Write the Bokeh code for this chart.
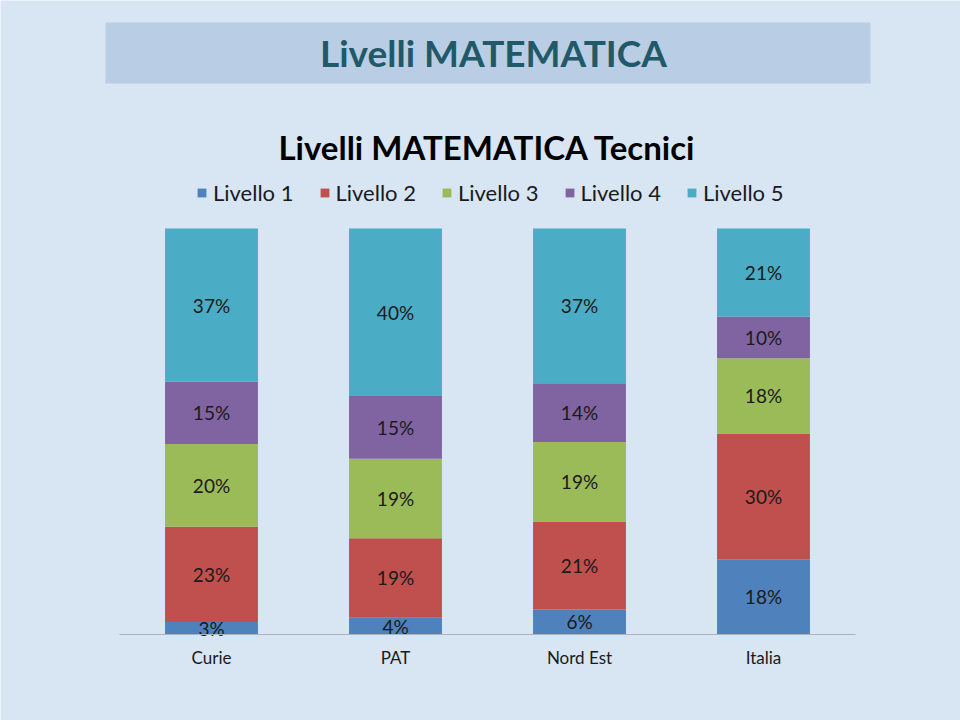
from bokeh.plotting import figure
from bokeh.models import ColumnDataSource, Range1d, Label, Legend, LegendItem, FixedTicker
from bokeh.embed import file_html
from bokeh.resources import INLINE
from bokeh.core.properties import value

# ---- data ----
categories = ["Curie", "PAT", "Nord Est", "Italia"]
levels = ["Livello 1", "Livello 2", "Livello 3", "Livello 4", "Livello 5"]
livello1 = [3, 4, 6, 18]
livello2 = [23, 19, 21, 30]
livello3 = [20, 19, 19, 18]
livello4 = [15, 15, 14, 10]
livello5 = [37, 40, 37, 21]
colors = ["#4f81bd", "#c0504d", "#9bbb59", "#8064a2", "#4bacc6"]

BG = "#d8e5f3"
FONT = "Lato"
W, H = 960, 720
# plot-area geometry (pixels): bars span x 119..855, y 228..634
PX_LEFT, PX_UNIT_X = 119, 184
PX_BASE, PX_UNIT_Y = 634, 406


def X(px):
    return (px - PX_LEFT) / PX_UNIT_X


def Y(py):
    return (PX_BASE - py) / PX_UNIT_Y


series = [livello1, livello2, livello3, livello4, livello5]
keys = ["l1", "l2", "l3", "l4", "l5"]
totals = [sum(s[i] for s in series) for i in range(len(categories))]
xpos = [i + 0.5 for i in range(len(categories))]

data = {"x": xpos}
for k, s in zip(keys, series):
    data[k] = [v / t for v, t in zip(s, totals)]
source = ColumnDataSource(data)

lx, ly, lt = [], [], []
for i in range(len(categories)):
    base = 0.0
    for k, s in zip(keys, series):
        frac = data[k][i]
        lx.append(xpos[i])
        ly.append(base + frac / 2)
        lt.append(f"{s[i]}%")
        base += frac
lsource = ColumnDataSource(dict(x=lx, y=ly, text=lt))

p = figure(width=W, height=H,
           x_range=Range1d(X(0), X(W)), y_range=Range1d(Y(H), Y(0)),
           output_backend="svg", toolbar_location=None,
           min_border_left=0, min_border_right=0, min_border_top=0, min_border_bottom=0,
           background_fill_color=BG, border_fill_color=BG, outline_line_color=None)

# banner
p.quad(left=[X(105)], right=[X(870)], top=[Y(22)], bottom=[Y(83)],
       fill_color="#b9cde4", line_color=None)
p.add_layout(Label(x=X(493), y=Y(52), text="Livelli MATEMATICA", text_align="center",
                   text_baseline="middle", text_font=FONT, text_font_size="37px",
                   text_font_style="bold", text_color="#215968"))

# chart title
p.add_layout(Label(x=X(487), y=Y(146), text="Livelli MATEMATICA Tecnici", text_align="center",
                   text_baseline="middle", text_font=FONT, text_font_size="33px",
                   text_font_style="bold", text_color="#000000"))

rs = p.vbar_stack(keys, x="x", width=0.505, fill_color=colors, line_color=None, source=source)

p.text(x="x", y="y", text="text", source=lsource, text_align="center", text_baseline="middle",
       text_font=value(FONT), text_font_size="19px", text_color="#1a1a1a")

p.yaxis.visible = False
p.xgrid.visible = False
p.ygrid.visible = False
ax = p.xaxis[0]
ax.fixed_location = 0
ax.bounds = (0, len(categories))
ax.ticker = FixedTicker(ticks=xpos)
ax.major_label_overrides = {x: c for x, c in zip(xpos, categories)}
ax.axis_line_color = "#a9b4bf"
ax.major_tick_line_color = None
ax.minor_tick_line_color = None
ax.major_label_standoff = 6
ax.major_label_text_font = FONT
ax.major_label_text_font_size = "17px"
ax.major_label_text_color = "#1a1a1a"

legend = Legend(items=[LegendItem(label=l, renderers=[r]) for l, r in zip(levels, rs)],
                orientation="horizontal", location=(196, H - 206),
                glyph_width=11, glyph_height=11, label_standoff=6, spacing=25,
                label_text_font=FONT, label_text_font_size="22px", label_text_color="#1a1a1a",
                background_fill_alpha=0, border_line_alpha=0, padding=0, margin=0)
p.add_layout(legend, "center")

open("out.html", "w").write(file_html(p, INLINE))
